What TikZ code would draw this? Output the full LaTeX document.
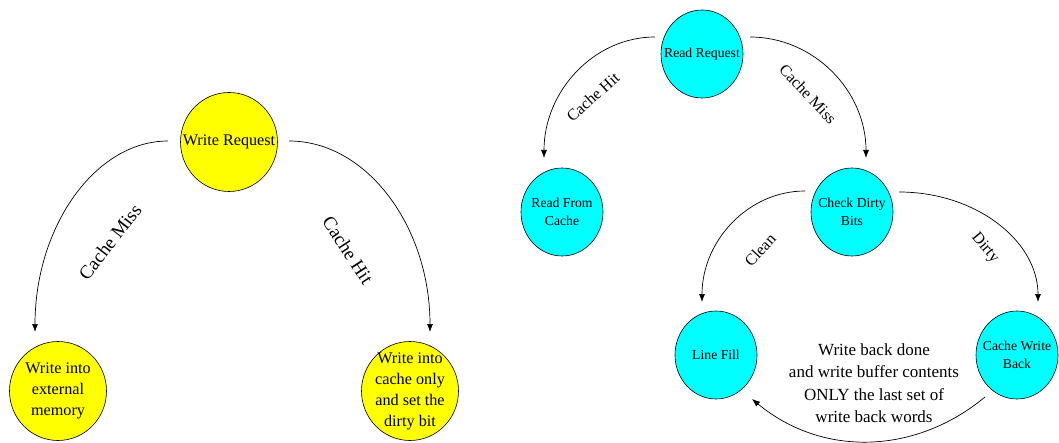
\documentclass[tikz,border=0pt]{standalone}
\usepackage{fontspec}
\setmainfont{Liberation Serif}
\usetikzlibrary{calc}
\usetikzlibrary{arrows.meta}
\usetikzlibrary{shapes.geometric}
\definecolor{wfill}{RGB}{255,255,0}
\definecolor{rfill}{RGB}{0,255,255}

\tikzset{
    wstate/.style={ellipse, draw, line width=0.6pt, fill=wfill,
        minimum width=97, minimum height=99, inner sep=0pt},
    rstate/.style={ellipse, draw, line width=0.6pt, fill=rfill,
        minimum width=82, minimum height=88, inner sep=0pt},
    wtext/.style={align=center, inner sep=0pt, font=\fontsize{16.2}{21}\selectfont},
    rtext/.style={align=center, inner sep=0pt, font=\fontsize{13.7}{17.5}\selectfont},
    wlbl/.style={font=\fontsize{19}{22}\selectfont},
    rlbl/.style={font=\fontsize{16}{20}\selectfont},
    flow/.style={-{Latex[length=8pt,width=6pt]}, line width=0.7pt},
}

\begin{document}
\begin{tikzpicture}[x=1pt,y=1pt]
        \useasboundingbox (0,0) rectangle (1059,442);
        % write side
        \node[wstate, label={[wtext]center:Write Request}] (wreq) at (229,300) {};
        \node[wstate, label={[wtext]center:Write into\\external\\memory}] (wext) at (58,51) {};
        \node[wstate, label={[wtext]center:Write into\\cache only\\and set the\\dirty bit}] (wcache) at (410,51) {};
        \draw[flow] ($(wreq)+(-61,1)$) .. controls +(-73,0) and +(0,105) .. ($(wext)+(-23,59)$);
        \draw[flow] ($(wreq)+(60,1)$) .. controls +(78,0) and +(0,105) .. ($(wcache)+(20,59)$);
        \node[wlbl, rotate=52] (wmiss) at (110,200) {Cache Miss};
        \node[wlbl, rotate=-57] (whit) at (348,192) {Cache Hit};
        % read side
        \node[rstate, label={[rtext]center:Read Request}] (rreq) at (702,388) {};
        \node[rstate, label={[rtext]center:Read From\\Cache}] (rcache) at (562,230) {};
        \node[rstate, label={[rtext]center:Check Dirty\\Bits}] (chk) at (852,230) {};
        \node[rstate, label={[rtext]center:Line Fill}] (fill) at (716,87) {};
        \node[rstate, label={[rtext]center:Cache Write\\Back}] (cwb) at (1017,87) {};
        \draw[flow] ($(rreq)+(-47,17)$) .. controls +(-61,0) and +(0,67) .. ($(rcache)+(-18,54)$);
        \draw[flow] ($(rreq)+(48,17)$) .. controls +(64,0) and +(0,67) .. ($(chk)+(14,54)$);
        \draw[flow] ($(chk)+(-47,21)$) .. controls +(-57,0) and +(0,61) .. ($(fill)+(-14,53)$);
        \draw[flow] ($(chk)+(47,20)$) .. controls +(77,0) and +(0,61) .. ($(cwb)+(21,53)$);
        \draw[flow] ($(cwb)+(-32,-42)$) .. controls +(-70,-58) and +(70,-58) .. ($(fill)+(36,-44)$);
        \node[rlbl, rotate=42] (rhit) at (593,345) {Cache Hit};
        \node[rlbl, rotate=-47] (rmiss) at (808,348) {Cache Miss};
        \node[rlbl, rotate=47] (clean) at (760,192) {Clean};
        \node[rlbl, rotate=-50] (dirty) at (985,194) {Dirty};
        \node[align=center, font=\fontsize{17}{22.5}\selectfont] (wbnote) at (874,59)
            {Write back done\\and write buffer contents\\ONLY the last set of\\write back words};
\end{tikzpicture}
\end{document}
